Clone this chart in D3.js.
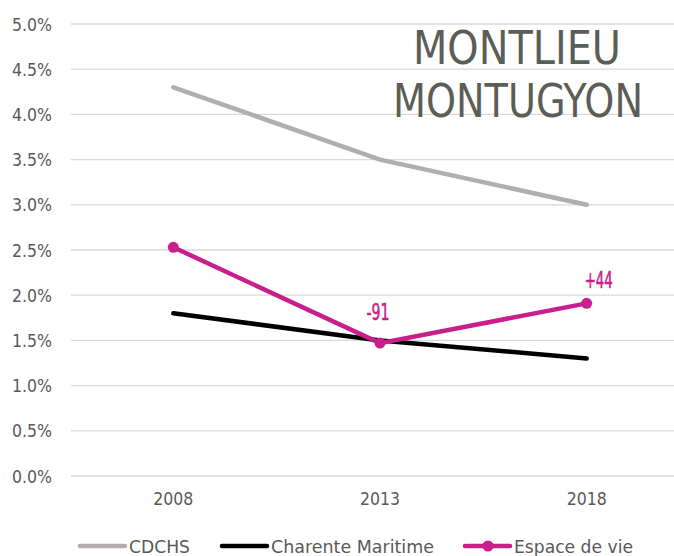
<!DOCTYPE html>
<html>
<head>
<meta charset="UTF-8">
<style>
  body { margin: 0; background: #fff; }
  text { font-family: "DejaVu Sans Condensed", "DejaVu Sans", sans-serif; }
</style>
</head>
<body>
<svg></svg>
<script src="https://d3js.org/d3.v7.min.js"></script>
<script>

let width = 674,
    height = 556;

let years = ["2008", "2013", "2018"];
let cdchs = [4.3, 3.5, 3.0];
let charente = [1.8, 1.5, 1.3];
let espace = [2.53, 1.47, 1.91];
let espaceLabels = ["", "-91", "+44"];
let yTicks = [0, 0.5, 1, 1.5, 2, 2.5, 3, 3.5, 4, 4.5, 5];

let series = [
  {name: "CDCHS", values: cdchs, color: "#b2aeb0", dots: false},
  {name: "Charente Maritime", values: charente, color: "#000000", dots: false},
  {name: "Espace de vie", values: espace, color: "#c81f8c", dots: true}
];

let svg = d3.select("svg")
    .attr("width", width)
    .attr("height", height);

let x = d3.scaleBand()
    .domain(years)
    .range([70, 690]);

let cx = yr => x(yr) + x.bandwidth() / 2;

let y = d3.scaleLinear()
    .domain([0, 5])
    .range([476, 24]);

// grid
svg.append("g")
  .selectAll("line")
  .data(yTicks)
  .enter()
  .append("line")
    .attr("x1", 71)
    .attr("x2", width)
    .attr("y1", d => y(d))
    .attr("y2", d => y(d))
    .attr("stroke", "#d9d9d9")
    .attr("stroke-width", 1.3);

// y labels
svg.append("g")
  .selectAll("text")
  .data(yTicks)
  .enter()
  .append("text")
    .attr("x", 52)
    .attr("y", d => y(d) + 6.5)
    .attr("text-anchor", "end")
    .attr("font-size", 17.5)
    .attr("fill", "#595959")
    .text(d => d.toFixed(1) + "%");

// x labels
svg.append("g")
  .selectAll("text")
  .data(years)
  .enter()
  .append("text")
    .attr("x", d => cx(d))
    .attr("y", 505)
    .attr("text-anchor", "middle")
    .attr("font-size", 17.5)
    .attr("fill", "#595959")
    .text(d => d);

// title
svg.append("text")
    .attr("x", 517)
    .attr("y", 64)
    .attr("text-anchor", "middle")
    .attr("font-size", 47)
    .attr("textLength", 208)
    .attr("lengthAdjust", "spacingAndGlyphs")
    .attr("fill", "#5b5e56")
    .text("MONTLIEU");
svg.append("text")
    .attr("x", 518)
    .attr("y", 117)
    .attr("text-anchor", "middle")
    .attr("font-size", 47)
    .attr("textLength", 250)
    .attr("lengthAdjust", "spacingAndGlyphs")
    .attr("fill", "#5b5e56")
    .text("MONTUGYON");

let line = d3.line()
    .x((d, i) => cx(years[i]))
    .y(d => y(d));

series.forEach(s => {
  svg.append("path")
    .attr("d", line(s.values))
    .attr("fill", "none")
    .attr("stroke", s.color)
    .attr("stroke-width", 4.5)
    .attr("stroke-linecap", "round");
  if (s.dots) {
    svg.append("g")
      .selectAll("circle")
      .data(s.values)
      .enter()
      .append("circle")
        .attr("cx", (d, i) => cx(years[i]))
        .attr("cy", d => y(d))
        .attr("r", 5.5)
        .attr("fill", s.color);
  }
});

// data labels
let labelData = espace.map((v, i) => ({year: years[i], value: v, label: espaceLabels[i], i: i}))
    .filter(d => d.label);

svg.append("g")
  .selectAll("text")
  .data(labelData)
  .enter()
  .append("text")
    .attr("x", d => cx(d.year) + (d.i == 2 ? 12 : -2))
    .attr("y", d => y(d.value) - (d.i == 2 ? 15 : 23))
    .attr("text-anchor", "middle")
    .attr("font-size", 23)
    .attr("stroke", "#c81f8c")
    .attr("stroke-width", 0.6)
    .attr("textLength", d => d.i == 2 ? 28 : 23)
    .attr("lengthAdjust", "spacingAndGlyphs")
    .attr("fill", "#c81f8c")
    .text(d => d.label);

// legend
let legendX = [80, 222, 465];
let legendW = [61, 163, 119];
let leg = svg.append("g")
  .selectAll("g")
  .data(series)
  .enter()
  .append("g")
    .attr("transform", (d, i) => "translate(" + legendX[i] + ",546)");

leg.append("line")
    .attr("x1", 0).attr("x2", 45)
    .attr("stroke", d => d.color)
    .attr("stroke-width", 4.5)
    .attr("stroke-linecap", "round");
leg.filter(d => d.dots).append("circle")
    .attr("cx", 23).attr("r", 5.5)
    .attr("fill", d => d.color);
leg.append("text")
    .attr("x", 49)
    .attr("y", 7)
    .attr("font-size", 18)
    .attr("textLength", (d, i) => legendW[i])
    .attr("lengthAdjust", "spacingAndGlyphs")
    .attr("fill", "#595959")
    .text(d => d.name);

</script>
</body>
</html>
